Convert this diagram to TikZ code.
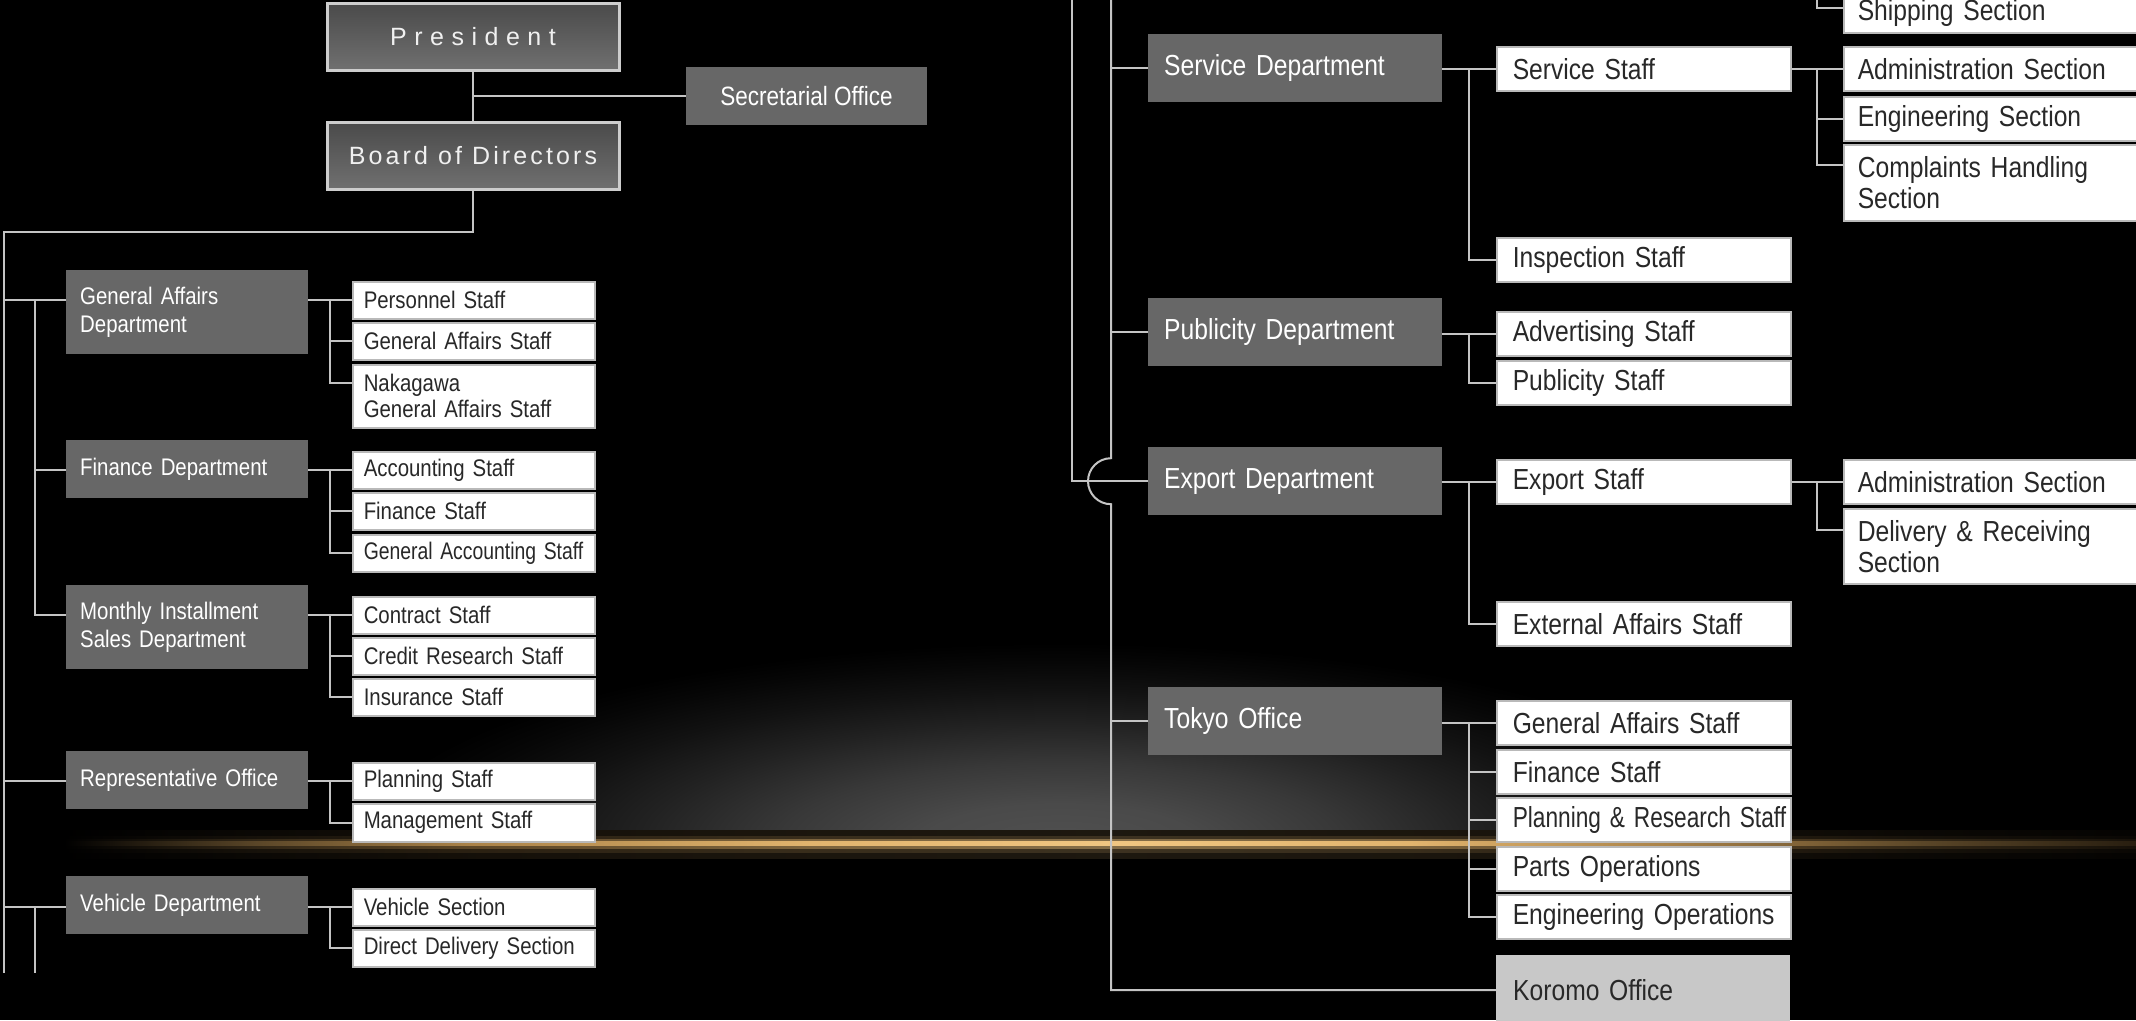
\documentclass[tikz,border=0pt]{standalone}
\usepackage{fontspec}
\usepackage{graphicx}
\usetikzlibrary{calc}
\setmainfont{Liberation Sans}
\newfontfamily\condfont{Liberation Sans}[FakeStretch=0.85]
\newfontfamily\presfont{Liberation Sans}[LetterSpace=30]
\newfontfamily\boardfont{Liberation Sans}[LetterSpace=12.5]
\definecolor{deptgray}{RGB}{103,103,103}
\definecolor{lncol}{RGB}{196,196,196}
\definecolor{boxline}{RGB}{185,185,185}
\definecolor{darktext}{RGB}{40,40,40}
\definecolor{glowgray}{RGB}{80,80,80}
\definecolor{koromocol}{RGB}{200,200,200}
\definecolor{topA}{RGB}{74,74,74}
\definecolor{topB}{RGB}{112,112,112}
\definecolor{topline}{RGB}{205,205,205}
\definecolor{oA}{RGB}{90,70,40}
\definecolor{oB}{RGB}{170,130,72}
\definecolor{oC}{RGB}{225,180,110}
\definecolor{oD}{RGB}{240,198,130}
\definecolor{oE}{RGB}{40,30,16}
\pgfdeclareradialshading{grayglow}{\pgfpoint{0bp}{0bp}}{color(0bp)=(glowgray); color(5bp)=(glowgray!92!black); color(10bp)=(glowgray!70!black); color(15bp)=(glowgray!42!black); color(19bp)=(glowgray!22!black); color(22.5bp)=(glowgray!8!black); color(25bp)=(black); color(50bp)=(black)}
\newcommand\declglow[2]{\pgfdeclarehorizontalshading{#1}{100bp}{color(0bp)=(black); color(25bp)=(black); color(26.5bp)=(black); color(31bp)=(oA!#2!black); color(36bp)=(oB!#2!black); color(44bp)=(oC!#2!black); color(51bp)=(oD!#2!black); color(58bp)=(oC!#2!black); color(64bp)=(oB!#2!black); color(70bp)=(oA!#2!black); color(75bp)=(oE!#2!black); color(100bp)=(oE!#2!black)}}
\declglow{glowfull}{100}
\declglow{glowhalf}{55}
\declglow{glowlow}{25}
\declglow{glowfaint}{12}
\tikzset{
  ln/.style={draw=lncol, line width=2pt},
  topbox/.style={draw=topline, line width=3pt, top color=topA, bottom color=topB, text=white!94!black, minimum width=292pt, minimum height=67pt, inner sep=0pt},
  secbox/.style={fill=deptgray, text=white, minimum width=241pt, minimum height=58pt, inner sep=0pt, font=\condfont\fontsize{26.5}{30}\selectfont},
  ldept/.style={fill=deptgray, text=white, anchor=north west, inner xsep=14pt, inner ysep=0pt, text width=214pt, align=left, font=\condfont\fontsize{24}{28}\selectfont},
  lstaff/.style={fill=white, draw=boxline, line width=1.5pt, text=darktext, anchor=north west, inner xsep=11pt, inner ysep=0pt, text width=220pt, align=left, minimum height=37pt, font=\condfont\fontsize{24}{26}\selectfont},
  rdept/.style={fill=deptgray, text=white, anchor=north west, inner xsep=16pt, inner ysep=0pt, text width=262pt, align=left, minimum height=68pt, font=\condfont\fontsize{29}{31}\selectfont},
  rstaff/.style={fill=white, draw=boxline, line width=1.5pt, text=darktext, anchor=north west, inner xsep=16pt, inner ysep=0pt, text width=262pt, align=left, minimum height=44pt, font=\condfont\fontsize{29}{31}\selectfont},
  rsec/.style={fill=white, draw=boxline, line width=1.5pt, text=darktext, anchor=north west, inner xsep=14pt, inner ysep=0pt, text width=290pt, align=left, minimum height=44pt, font=\condfont\fontsize{29}{31}\selectfont},
  korbox/.style={fill=koromocol, text=darktext, anchor=north west, inner xsep=17pt, inner ysep=0pt, text width=260pt, align=left, minimum height=70pt, font=\condfont\fontsize{29}{31}\selectfont}
}
\begin{document}
\begin{tikzpicture}[x=1pt,y=-1pt]
\useasboundingbox (0,0) rectangle (2136,1020);
\fill[black] (0,0) rectangle (2136,1020);
% gray glow above the line
\begin{scope}
\clip (0,0) rectangle (2136,843);
\shade[shading=grayglow] (1060,843) ellipse [x radius=700pt, y radius=200pt];
\end{scope}
% golden line
\shade[shading=glowfaint] (0,830) rectangle (2136,858);
\shade[shading=glowlow] (0,836) rectangle (2136,852);
\shade[shading=glowhalf] (0,839.5) rectangle (2136,848);
\shade[shading=glowfull] (0,841.5) rectangle (2136,845);

% top
\node[topbox, font=\presfont\fontsize{25}{30}\selectfont] (pres) at (473,36.5) {President};
\node[topbox, font=\boardfont\fontsize{25}{30}\selectfont] (board) at (473,155.5) {Board of Directors};
\node[secbox] (sec) at (806.5,96) {Secretarial Office};

% left departments
\node[ldept, minimum height=84pt] (ga) at (66,270) {General Affairs\\Department};
\node[ldept, minimum height=58pt] (fi) at (66,440) {Finance Department};
\node[ldept, minimum height=84pt] (mi) at (66,585) {Monthly Installment\\Sales Department};
\node[ldept, minimum height=58pt] (ro) at (66,751) {Representative Office};
\node[ldept, minimum height=58pt] (vd) at (66,876) {Vehicle Department};

% left staff
\node[lstaff] (p1) at (352,281) {Personnel Staff};
\node[lstaff] (p2) at (352,322) {General Affairs Staff};
\node[lstaff, minimum height=63pt] (p3) at (352,364) {Nakagawa\\General Affairs Staff};
\node[lstaff] (f1) at (352,451) {Accounting Staff};
\node[lstaff] (f2) at (352,492) {Finance Staff};
\node[lstaff] (f3) at (352,534) {\scalebox{0.95}[1]{General Accounting Staff}};
\node[lstaff] (c1) at (352,596) {Contract Staff};
\node[lstaff] (c2) at (352,637) {Credit Research Staff};
\node[lstaff] (c3) at (352,678) {Insurance Staff};
\node[lstaff] (q1) at (352,762) {Planning Staff};
\node[lstaff, minimum height=38pt] (q2) at (352,803) {Management Staff};
\node[lstaff] (v1) at (352,888) {Vehicle Section};
\node[lstaff] (v2) at (352,929) {Direct Delivery Section};

% right departments
\node[rdept] (sd) at (1148,34) {Service Department};
\node[rdept] (pd) at (1148,298) {Publicity Department};
\node[rdept] (ed) at (1148,447) {Export Department};
\node[rdept] (to) at (1148,687) {Tokyo Office};

% right staff
\node[rstaff] (ss) at (1496,46) {Service Staff};
\node[rstaff] (is) at (1496,237) {Inspection Staff};
\node[rstaff] (as) at (1496,311) {Advertising Staff};
\node[rstaff] (ps) at (1496,360) {Publicity Staff};
\node[rstaff] (es) at (1496,459) {Export Staff};
\node[rstaff] (xs) at (1496,601) {External Affairs Staff};
\node[rstaff] (tg) at (1496,700) {General Affairs Staff};
\node[rstaff] (tf) at (1496,749) {Finance Staff};
\node[rstaff] (tp) at (1496,797) {\scalebox{0.92}[1]{Planning \& Research Staff}};
\node[rstaff] (tq) at (1496,846) {Parts Operations};
\node[rstaff] (te) at (1496,894) {Engineering Operations};
\node[korbox] (ko) at (1496,955) {Koromo Office};

% sections
\node[rsec, minimum height=40pt] (sh) at (1843,-8) {Shipping Section};
\node[rsec] (sa) at (1843,46) {Administration Section};
\node[rsec] (sn) at (1843,96) {Engineering Section};
\node[rsec, minimum height=76pt] (sc) at (1843,144) {Complaints Handling\\Section};
\node[rsec] (ea) at (1843,459) {Administration Section};
\node[rsec, minimum height=75pt] (er) at (1843,508) {Delivery \& Receiving\\Section};

% helper coordinates
\coordinate (tLtop) at (4,232);
\coordinate (tLbot) at (4,973);
\coordinate (tL2) at (35,0);
\coordinate (bL) at (330,0);
\coordinate (tAtop) at (1072,-10);
\coordinate (tBtop) at (1111,-10);
\coordinate (bR) at (1469,0);
\coordinate (bS) at (1817,0);
\coordinate (bStop) at (1817,-10);

% top connectors
\draw[ln] (pres.south) -- (board.north);
\draw[ln] (pres.south |- sec.west) -- (sec.west);
\draw[ln] (board.south) |- (tLtop) -- (tLbot);

% left trunk connectors
\draw[ln] (tLtop |- p1.west) -- (ga.west |- p1.west);
\draw[ln] (tL2 |- p1.west) |- (mi.west |- c1.west);
\draw[ln] (tL2 |- f1.west) -- (fi.west |- f1.west);
\draw[ln] (tLtop |- q1.west) -- (ro.west |- q1.west);
\draw[ln] (tLtop |- v1.west) -- (vd.west |- v1.west);
\draw[ln] (tL2 |- v1.west) -- (tL2 |- tLbot);

% left staff connectors
\draw[ln] (ga.east |- p1.west) -- (p1.west);
\draw[ln] (bL |- p1.west) |- (p2.west);
\draw[ln] (bL |- p1.west) |- ($(p3.west)+(0,-13.5)$);
\draw[ln] (fi.east |- f1.west) -- (f1.west);
\draw[ln] (bL |- f1.west) |- (f2.west);
\draw[ln] (bL |- f1.west) |- (f3.west);
\draw[ln] (mi.east |- c1.west) -- (c1.west);
\draw[ln] (bL |- c1.west) |- (c2.west);
\draw[ln] (bL |- c1.west) |- (c3.west);
\draw[ln] (ro.east |- q1.west) -- (q1.west);
\draw[ln] (bL |- q1.west) |- (q2.west);
\draw[ln] (vd.east |- v1.west) -- (v1.west);
\draw[ln] (bL |- v1.west) |- (v2.west);

% right trunks
\draw[ln] (tAtop) |- (ed.west);
\draw[ln] (tBtop) -- ($(tBtop |- ed.west)+(0,-23)$) arc[start angle=90, end angle=270, radius=23pt] -- (tBtop |- ko.west) -- (ko.west);
\draw[ln] (tBtop |- sd.west) -- (sd.west);
\draw[ln] (tBtop |- pd.west) -- (pd.west);
\draw[ln] (tBtop |- to.west) -- (to.west);

% right staff connectors
\draw[ln] (sd.east |- ss.west) -- (ss.west);
\draw[ln] (bR |- ss.west) |- (is.west);
\draw[ln] (pd.east |- as.west) -- (as.west);
\draw[ln] (bR |- as.west) |- (ps.west);
\draw[ln] (ed.east |- es.west) -- (es.west);
\draw[ln] (bR |- es.west) |- (xs.west);
\draw[ln] (to.east |- tg.west) -- (tg.west);
\draw[ln] (bR |- tg.west) |- (tf.west);
\draw[ln] (bR |- tg.west) |- (tp.west);
\draw[ln] (bR |- tg.west) |- (tq.west);
\draw[ln] (bR |- tg.west) |- (te.west);

% section connectors
\draw[ln] (bStop) |- ($(sh.west)+(0,-5)$);
\draw[ln] (ss.east) -- (sa.west);
\draw[ln] (bS |- sa.west) |- (sn.west);
\draw[ln] (bS |- sa.west) |- ($(sc.west)+(0,-18)$);
\draw[ln] (es.east) -- (ea.west);
\draw[ln] (bS |- ea.west) |- ($(er.west)+(0,-16.5)$);
\end{tikzpicture}
\end{document}
